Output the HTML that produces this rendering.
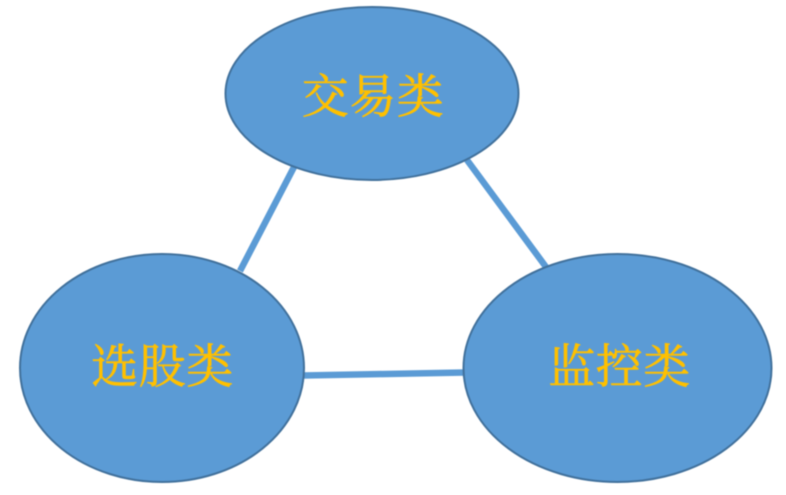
<!DOCTYPE html>
<html>
<head>
<meta charset="utf-8">
<style>
html,body{margin:0;padding:0;background:#fff;width:786px;height:495px;overflow:hidden}
svg{display:block;filter:blur(0.4px)}
text{font-family:"Liberation Serif","Noto Serif CJK SC",serif;font-size:47px;fill:#FFC000;stroke:#FFC000;stroke-width:0.6px;text-anchor:middle;letter-spacing:0.5px}
</style>
</head>
<body>
<svg width="786" height="495" viewBox="0 0 786 495" xmlns="http://www.w3.org/2000/svg">
<g stroke="#5B9BD5" stroke-width="6.500" fill="none">
<line x1="294" y1="167" x2="240" y2="271"/>
<line x1="467" y1="160" x2="546" y2="267"/>
<line x1="303" y1="375.500" x2="465" y2="372.500"/>
</g>
<g fill="#5B9BD5" stroke="#41719C" stroke-width="2">
<ellipse cx="372" cy="93.500" rx="146.500" ry="86.500"/>
<ellipse cx="162" cy="368" rx="142" ry="114"/>
<ellipse cx="617.500" cy="368" rx="154" ry="114"/>
</g>
<text x="373" y="113">交易类</text>
<text x="162.500" y="383">选股类</text>
<text x="619.500" y="383">监控类</text>
</svg>
</body>
</html>
